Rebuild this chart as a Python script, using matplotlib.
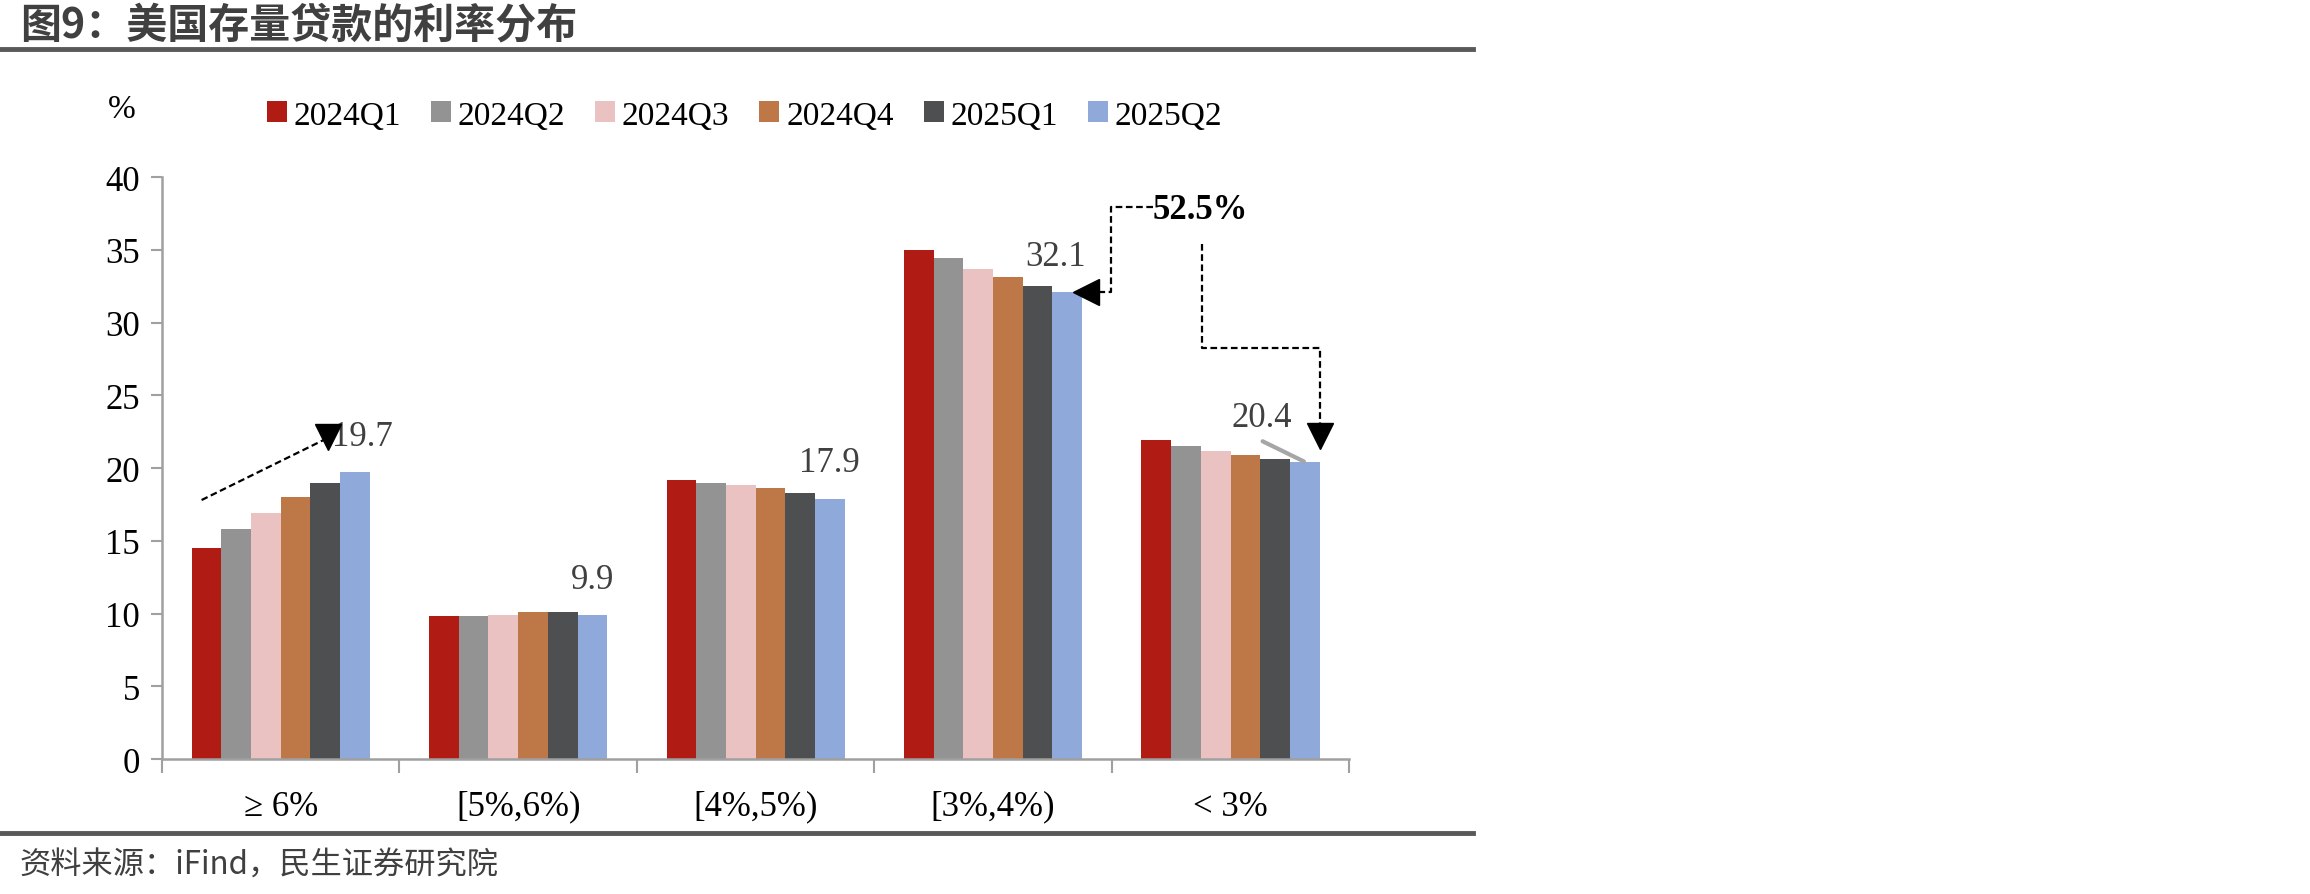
import numpy as np
import matplotlib
matplotlib.use("Agg")
import matplotlib.pyplot as plt

plt.rcParams['font.family'] = ['Liberation Serif', 'DejaVu Serif']

categories = ["≥ 6%", "[5%,6%)", "[4%,5%)", "[3%,4%)", "< 3%"]
series_names = ["2024Q1", "2024Q2", "2024Q3", "2024Q4", "2025Q1", "2025Q2"]
v_2024Q1 = [14.5, 9.8, 19.2, 35.0, 21.9]
v_2024Q2 = [15.8, 9.8, 19.0, 34.4, 21.5]
v_2024Q3 = [16.9, 9.9, 18.8, 33.7, 21.2]
v_2024Q4 = [18.0, 10.1, 18.6, 33.1, 20.9]
v_2025Q1 = [19.0, 10.1, 18.3, 32.5, 20.6]
v_2025Q2 = [19.7, 9.9, 17.9, 32.1, 20.4]
series_values = [v_2024Q1, v_2024Q2, v_2024Q3, v_2024Q4, v_2025Q1, v_2025Q2]
colors = ["#B01C14", "#939393", "#EAC2C2", "#BE7746", "#4E4F51", "#8FAADA"]
yticks = [0, 5, 10, 15, 20, 25, 30, 35, 40]

fig = plt.figure(figsize=(23.1, 8.95), dpi=100)
ax = fig.add_axes([0.0701, 0.1508, 0.514, 0.6503])

n = len(series_names)
w = 0.75 / n
x = np.arange(len(categories))
bars = []
for i, (name, vals, c) in enumerate(zip(series_names, series_values, colors)):
    b = ax.bar(x + (i - (n - 1) / 2) * w, vals, width=w, color=c, label=name, zorder=2)
    bars.append(b)

ax.set_xlim(-0.5, len(categories) - 0.5)
ax.set_ylim(0, 40)
ax.set_yticks(yticks)
ax.set_yticklabels([str(t) for t in yticks], fontsize=25)
ax.set_xticks(x)
ax.set_xticklabels(categories, fontsize=25)
ax.set_xticks(np.arange(len(categories) + 1) - 0.5, minor=True)
ax.tick_params(axis='x', which='major', length=0, pad=22)
ax.tick_params(axis='x', which='minor', length=10, width=1.5, color='#A0A0A0', direction='out')
ax.tick_params(axis='y', length=8, width=1.5, color='#A0A0A0', direction='out', pad=8)
for s in ['top', 'right']:
    ax.spines[s].set_visible(False)
for s in ['left', 'bottom']:
    ax.spines[s].set_color('#A0A0A0')
    ax.spines[s].set_linewidth(1.8)

# data labels for last series
last = series_values[-1]
lab_col = '#404040'
bx = x + (n - 1) / 2 * w
for k in range(4):
    xo = bx[k] + (0.03 if k == 0 else 0)
    if k == 3:
        xo = bx[k] - 0.05
    ax.text(xo, last[k] + 2.45, f"{last[k]:.1f}", ha='center', va='center', fontsize=25, color=lab_col, zorder=3)
ax.text(4.13, 23.5, f"{last[4]:.1f}", ha='center', va='center', fontsize=25, color=lab_col, zorder=3)
ax.plot([4.135, 4.309], [21.84, 20.45], color='#A6A6A6', lw=3, zorder=3, solid_capstyle='round')

dash = (0, (3, 1.6))
# trend arrow on first group
ax.plot([-0.333, 0.19], [17.8, 22.0], color='black', lw=1.6, linestyle=dash, zorder=4)
ax.plot([0.198], [22.1], marker='v', markersize=19, color='black', zorder=5, clip_on=False)

# 52.5% annotation
ax.text(3.873, 37.8, "52.5%", ha='center', va='center', fontsize=25, fontweight='bold', color='black')
ax.plot([3.675, 3.495, 3.495, 3.42], [37.97, 37.97, 32.1, 32.1], color='black', lw=1.6, linestyle=dash, zorder=4)
ax.plot([3.39], [32.1], marker='<', markersize=19, color='black', zorder=5)
ax.plot([3.878, 3.878, 4.376, 4.376], [35.4, 28.25, 28.25, 22.8], color='black', lw=1.6, linestyle=dash, zorder=4)
ax.plot([4.376], [22.2], marker='v', markersize=19, color='black', zorder=5)

# legend
fig.legend(handles=[b for b in bars], labels=series_names, loc='center left',
           bbox_to_anchor=(0.1025, 0.870), ncol=6, frameon=False, fontsize=24,
           handlelength=0.6, handleheight=0.6, handletextpad=0.2, columnspacing=0.9)

fig.text(0.0528, 0.877, "%", fontsize=24, ha='center', va='center')

# title and source
cjk = ['Noto Sans CJK SC', 'DejaVu Sans']
fig.text(0.0085, 0.972, "图9：美国存量贷款的利率分布", fontsize=29.5, fontweight='bold',
         color='#404040', family=cjk, ha='left', va='center')
fig.add_artist(plt.Line2D([0, 0.6377], [1 - 50 / 895, 1 - 50 / 895], color='#595959', lw=3.5,
                          transform=fig.transFigure))
fig.add_artist(plt.Line2D([0, 0.6377], [1 - 834 / 895, 1 - 834 / 895], color='#595959', lw=3.5,
                          transform=fig.transFigure))
fig.text(0.0085, 1 - 866 / 895, "资料来源：iFind，民生证券研究院", fontsize=22.5,
         color='#404040', family=cjk, ha='left', va='center')

fig.savefig("out.png", dpi=100)
